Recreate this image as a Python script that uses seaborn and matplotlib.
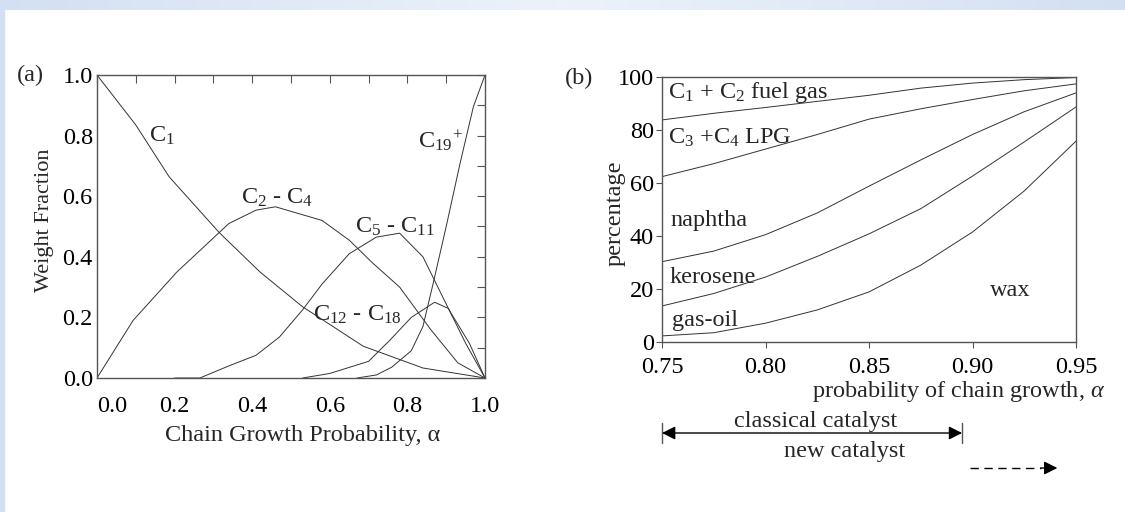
import matplotlib
matplotlib.use('Agg')
import matplotlib.pyplot as plt
import matplotlib.transforms as mtransforms
from matplotlib.patches import Rectangle
from matplotlib.ticker import MultipleLocator
import numpy as np
import pandas as pd
import seaborn as sns

# ---- panel (a): weight fraction vs chain growth probability ----
c1_alpha = [0.0, 0.1, 0.186, 0.315, 0.42, 0.53, 0.686, 0.84, 1.0]
c1_frac = [1.0, 0.835, 0.664, 0.48, 0.35, 0.235, 0.105, 0.033, 0.0]
c2c4_alpha = [0.0, 0.093, 0.206, 0.34, 0.41, 0.46, 0.58, 0.65, 0.71, 0.78, 0.86, 0.93, 1.0]
c2c4_frac = [0.0, 0.19, 0.35, 0.51, 0.554, 0.565, 0.52, 0.455, 0.38, 0.30, 0.16, 0.05, 0.0]
c5c11_alpha = [0.2, 0.265, 0.34, 0.41, 0.47, 0.53, 0.58, 0.65, 0.72, 0.78, 0.84, 0.89, 0.95, 1.0]
c5c11_frac = [0.0, 0.0, 0.04, 0.075, 0.135, 0.225, 0.31, 0.41, 0.465, 0.478, 0.40, 0.27, 0.115, 0.0]
c12c18_alpha = [0.53, 0.60, 0.70, 0.755, 0.81, 0.87, 0.905, 0.96, 1.0]
c12c18_frac = [0.0, 0.015, 0.055, 0.125, 0.20, 0.25, 0.23, 0.114, 0.0]
c19_alpha = [0.67, 0.72, 0.76, 0.81, 0.84, 0.866, 0.90, 0.936, 0.97, 1.0]
c19_frac = [0.0, 0.01, 0.036, 0.09, 0.17, 0.31, 0.50, 0.71, 0.895, 1.0]

# ---- panel (b): cumulative product split (%) ----
b_alpha = [0.75, 0.775, 0.80, 0.825, 0.85, 0.875, 0.90, 0.925, 0.95]
fuel_lpg = [83.8, 86.3, 88.5, 90.8, 93.1, 95.8, 97.7, 99.0, 99.8]
lpg_naphtha = [62.4, 67.3, 72.8, 78.3, 84.1, 88.0, 91.5, 94.8, 97.4]
naphtha_kero = [30.3, 34.3, 40.5, 48.7, 58.8, 68.7, 78.3, 86.9, 94.0]
kero_gasoil = [13.6, 18.3, 24.5, 32.3, 40.8, 50.3, 62.6, 75.5, 88.7]
gasoil_wax = [2.3, 3.5, 7.1, 12.1, 18.9, 29.0, 41.5, 57.0, 75.8]

classical_range = (0.75, 0.895)
new_range = (0.899, 0.941)

frames = []
for name, a, f in [('C1', c1_alpha, c1_frac), ('C2-C4', c2c4_alpha, c2c4_frac),
                   ('C5-C11', c5c11_alpha, c5c11_frac), ('C12-C18', c12c18_alpha, c12c18_frac),
                   ('C19+', c19_alpha, c19_frac)]:
    frames.append(pd.DataFrame({'alpha': a, 'frac': f, 'cut': name}))
df_a = pd.concat(frames, ignore_index=True)

frames = []
for name, p in [('fuel', fuel_lpg), ('lpg', lpg_naphtha), ('naphtha', naphtha_kero),
                ('kero', kero_gasoil), ('gasoil', gasoil_wax)]:
    frames.append(pd.DataFrame({'alpha': b_alpha, 'pct': p, 'line': name}))
df_b = pd.concat(frames, ignore_index=True)

sns.set_theme(style='white')
plt.rcParams['font.family'] = ['Liberation Serif', 'DejaVu Serif']
plt.rcParams['mathtext.fontset'] = 'custom'
plt.rcParams['mathtext.rm'] = 'Liberation Serif'
plt.rcParams['mathtext.it'] = 'Liberation Serif:italic'

FS = 17.5
line_col = '#333333'
spine_col = '#555555'

fig = plt.figure(figsize=(11.25, 5.12), dpi=100)
fig.patch.set_facecolor('white')

# light blue frame band (top and left)
band = fig.add_axes([0, 1 - 10 / 512, 1, 10 / 512], zorder=-5)
grad = np.linspace(0, 1, 256)
grad = 1 - np.abs(grad - 0.5) * 2
band.imshow(grad[None, :], aspect='auto', cmap=matplotlib.colors.LinearSegmentedColormap.from_list(
    'b', ['#d3e0f3', '#edf2fa']), extent=[0, 1, 0, 1])
band.axis('off')
fig.patches.append(Rectangle((0, 0), 4 / 1125, 1, transform=fig.transFigure,
                             color='#d3e0f3', zorder=-5))

ax_a = fig.add_axes([97 / 1125, 1 - 378 / 512, 388 / 1125, 303 / 512])
ax_b = fig.add_axes([662 / 1125, 1 - 342 / 512, 414 / 1125, 265 / 512])

# panel (a)
sns.lineplot(data=df_a, x='alpha', y='frac', units='cut', estimator=None, sort=False,
             color=line_col, lw=0.7, ax=ax_a)
ax_a.set_xlim(0, 1)
ax_a.set_ylim(0, 1)
ax_a.set_xticks([0, 0.2, 0.4, 0.6, 0.8, 1.0])
ax_a.set_xticklabels(['0.0', '0.2', '0.4', '0.6', '0.8', '1.0'])
ax_a.set_yticks([0, 0.2, 0.4, 0.6, 0.8, 1.0])
ax_a.set_yticklabels(['0.0', '0.2', '0.4', '0.6', '0.8', '1.0'])
ax_a.xaxis.set_minor_locator(MultipleLocator(0.1))
ax_a.yaxis.set_minor_locator(MultipleLocator(0.1))
ax_a.tick_params(which='both', direction='in', top=True, right=True, length=6,
                 width=0.8, color=spine_col, labelsize=FS, labelcolor='black')
ax_a.tick_params(axis='x', pad=13)
ax_a.tick_params(axis='y', pad=3)
ax_a.get_xticklabels()[0].set_ha('left')
ax_a.set_xlabel('Chain Growth Probability, α', fontsize=FS)
ax_a.xaxis.set_label_coords((303 - 97) / 388, (378 - 435) / 303)
ax_a.xaxis.label.set_va('center')
ax_a.set_ylabel('Weight Fraction', fontsize=16)
ax_a.yaxis.set_label_coords((45 - 97) / 388, (378 - 220) / 303)
ax_a.yaxis.label.set_va('center')

for txt, x, y in [('C$_1$', 0.168, 0.80), ('C$_2$ - C$_4$', 0.464, 0.594),
                  ('C$_5$ - C$_{11}$', 0.768, 0.498), ('C$_{12}$ - C$_{18}$', 0.67, 0.208),
                  ('C$_{19}$$^{+}$', 0.884, 0.785)]:
    ax_a.text(x, y, txt, fontsize=FS, ha='center', va='center')

fig.text(30 / 1125, 1 - 75 / 512, '(a)', fontsize=FS, ha='center', va='center')

# panel (b)
sns.lineplot(data=df_b, x='alpha', y='pct', units='line', estimator=None, sort=False,
             color=line_col, lw=0.7, ax=ax_b)
ax_b.set_xlim(0.75, 0.95)
ax_b.set_ylim(0, 100)
ax_b.set_xticks([0.75, 0.80, 0.85, 0.90, 0.95])
ax_b.set_xticklabels(['0.75', '0.80', '0.85', '0.90', '0.95'])
ax_b.set_yticks([0, 20, 40, 60, 80, 100])
ax_b.tick_params(direction='out', bottom=True, left=True, length=4, width=0.8,
                 color=spine_col, labelsize=FS, labelcolor='black', pad=2)
ax_b.tick_params(axis='x', pad=7)
ax_b.set_xlabel(r'probability of chain growth, $\alpha$', fontsize=FS)
ax_b.xaxis.set_label_coords((959 - 662) / 414, (342 - 391) / 265)
ax_b.xaxis.label.set_va('center')
ax_b.set_ylabel('percentage', fontsize=FS)
ax_b.yaxis.set_label_coords((615 - 662) / 414, (342 - 213) / 265)
ax_b.yaxis.label.set_va('center')

for txt, x, y in [('C$_1$ + C$_2$ fuel gas', 0.7529, 94.0), ('C$_3$ +C$_4$ LPG', 0.7529, 77.0),
                  ('naphtha', 0.7539, 46.0), ('kerosene', 0.7534, 24.2), ('gas-oil', 0.7548, 8.3)]:
    ax_b.text(x, y, txt, fontsize=FS, ha='left', va='center')
ax_b.text(0.918, 19.6, 'wax', fontsize=FS, ha='center', va='center')

fig.text(579 / 1125, 1 - 78 / 512, '(b)', fontsize=FS, ha='center', va='center')

for ax in (ax_a, ax_b):
    for s in ax.spines.values():
        s.set_color(spine_col)
        s.set_linewidth(1.0)

# catalyst ranges below panel (b)
trans = mtransforms.blended_transform_factory(ax_b.transData, ax_b.transAxes)
y_arr = (342 - 433) / 265
ax_b.annotate('', xy=(classical_range[0], y_arr), xytext=(classical_range[1], y_arr),
              xycoords=trans, textcoords=trans, annotation_clip=False,
              arrowprops=dict(arrowstyle='<|-|>', color='black', lw=1.0,
                              mutation_scale=20, shrinkA=0, shrinkB=0))
for xv in classical_range:
    ax_b.plot([xv, xv], [(342 - 423) / 265, (342 - 443) / 265], transform=trans,
              clip_on=False, color=spine_col, lw=1.0)
ax_b.text(0.824, (342 - 421) / 265, 'classical catalyst', transform=trans,
          fontsize=FS, ha='center', va='center')
ax_b.text(0.838, (342 - 452) / 265, 'new catalyst', transform=trans,
          fontsize=FS, ha='center', va='center')
y_new = (342 - 468) / 265
ax_b.plot([new_range[0], new_range[1] - 0.008], [y_new, y_new], transform=trans,
          clip_on=False, color='black', lw=1.0, ls=(0, (6, 4)))
ax_b.annotate('', xy=(new_range[1], y_new), xytext=(new_range[1] - 0.008, y_new),
              xycoords=trans, textcoords=trans, annotation_clip=False,
              arrowprops=dict(arrowstyle='-|>', color='black', lw=1.0,
                              mutation_scale=20, shrinkA=0, shrinkB=0))

fig.savefig('out.png', dpi=100)
